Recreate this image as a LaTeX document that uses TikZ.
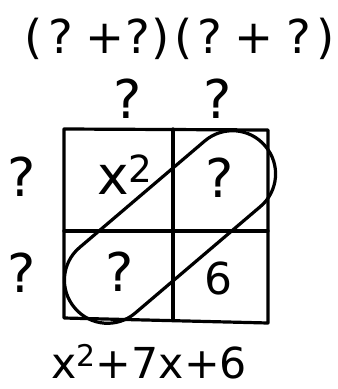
\documentclass[tikz,border=0pt]{standalone}
\usepackage{fontspec}
\setmainfont{DejaVu Sans}
\tikzset{
  pen/.style={line width=2.4pt,line cap=round,line join=round},
  hw/.style={font=\fontsize{40}{46}\selectfont,inner sep=0pt},
  top/.style={font=\fontsize{35}{42}\selectfont,inner sep=0pt},
  sumt/.style={font=\fontsize{32}{38}\selectfont,inner sep=0pt},
  six/.style={font=\fontsize{33}{40}\selectfont,inner sep=0pt},
}
\begin{document}
\begin{tikzpicture}[x=0.75pt,y=-0.75pt]
\useasboundingbox (0,0) rectangle (337,389);
% product of the two factors
\node[top] (factors) at (180,39) {(\hspace{4pt}?\hspace{9pt}+\hspace{1pt}?\hspace{1pt})\hspace{3pt}(\hspace{4pt}?\hspace{9pt}+\hspace{10pt}?\hspace{4pt})};
% labels round the box
\node[hw] (colA) at (128,99) {?};
\node[hw] (colB) at (218,99) {?};
\node[hw] (rowA) at (22,177) {?};
\node[hw] (rowB) at (22,273) {?};
% the box
\coordinate (tl) at (64,129);
\coordinate (tr) at (268,130);
\coordinate (br) at (268,323);
\coordinate (bl) at (64,318);
\draw[pen] (tl) -- (tr) -- (br) -- (bl) -- cycle;
\draw[pen] (173,129) -- (173,320);
\draw[pen] (64,231) -- (268,231);
% cells
\node[hw] (sq) at (125,175) {x\textsuperscript{2}};
\node[hw] (cellB) at (220,178) {?};
\node[hw] (cellC) at (120,272) {?};
\node[six] (cellD) at (218,278) {6};
% loop round the diagonal
\node[pen,draw,rotate=40.4,minimum width=187.5pt,minimum height=64.5pt,rounded corners=32pt] (loop) at (170,227) {};
% sum
\node[sumt] (sum) at (149,362) {x\textsuperscript{2}+7x+6};
\end{tikzpicture}
\end{document}
